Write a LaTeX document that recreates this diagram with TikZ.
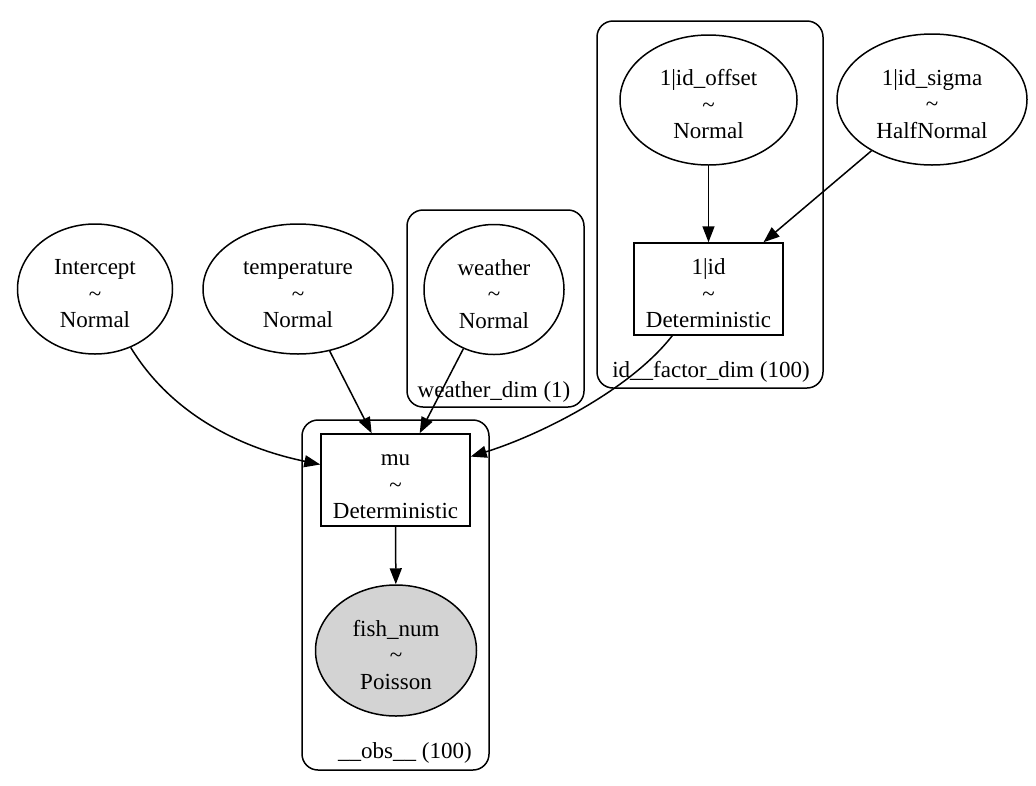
\documentclass[tikz,border=0pt]{standalone}
\usepackage{fontspec}
\setmainfont{Liberation Serif}
\usetikzlibrary{shapes.geometric,arrows.meta}
\definecolor{lgray}{RGB}{211,211,211}
\newcommand{\rvlabel}[2]{\rule{0pt}{25pt}#1\\\textasciitilde\\#2}
\begin{document}
\begin{tikzpicture}[x=1pt,y=-1pt,
  every node/.style={font=\fontsize{23}{26.5}\selectfont, align=center, inner sep=0pt},
  rv/.style={ellipse, draw, line width=1.5pt},
  det/.style={rectangle, draw, line width=1.5pt},
  plate/.style={rectangle, draw, rounded corners=16pt, line width=1.5pt},
  arr/.style={-{Triangle[length=16pt,width=12pt]}, line width=1.5pt},
]
\useasboundingbox (0,0) rectangle (1036,785);
% plates
\node[plate, minimum width=177, minimum height=197] (wplate) at (495.5,308.5) {};
\node[plate, minimum width=226, minimum height=367] (idplate) at (710,204.5) {};
\node[plate, minimum width=187, minimum height=350] (obsplate) at (395.5,595) {};
\node (wlab) at (494,392) {weather\_dim (1)};
\node (idlab) at (711,372) {id\_\_factor\_dim (100)};
\node (obslab) at (405,753) {\_\_obs\_\_ (100)};
% nodes
\node[rv, minimum width=155, minimum height=130] (int) at (95,289) {\rvlabel{Intercept}{Normal}};
\node[rv, minimum width=190, minimum height=130] (temp) at (298,289) {\rvlabel{temperature}{Normal}};
\node[rv, minimum width=140, minimum height=130] (weather) at (494,289.5) {\rvlabel{weather}{Normal}};
\node[rv, minimum width=177, minimum height=130] (offset) at (708.5,100) {\rvlabel{1|id\_offset}{Normal}};
\node[rv, minimum width=190, minimum height=131] (sigma) at (932,99.5) {\rvlabel{1|id\_sigma}{HalfNormal}};
\node[det, minimum width=149, minimum height=92] (oneid) at (708.5,289) {\rvlabel{1|id}{Deterministic}};
\node[det, minimum width=149, minimum height=92] (mu) at (395.5,480) {\rvlabel{mu}{Deterministic}};
\node[rv, fill=lgray, minimum width=161, minimum height=131] (fish) at (396,650.5) {\rvlabel{fish\_num}{Poisson}};
% edges
\draw[arr] (int) .. controls (175,420) and (250,450) .. (mu);
\draw[arr] (temp) -- (mu);
\draw[arr] (weather) -- (mu);
\draw[arr] (oneid) .. controls (630,390) and (540,435) .. (mu);
\draw[arr] (offset) -- (oneid);
\draw[arr] (sigma) -- (oneid);
\draw[arr] (mu) -- (fish);
\end{tikzpicture}
\end{document}
